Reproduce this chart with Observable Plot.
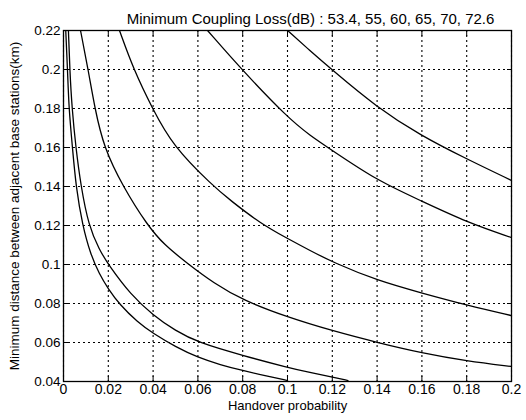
<!DOCTYPE html>
<html>
<head>
<meta charset="utf-8">
<script src="https://cdn.jsdelivr.net/npm/d3@7"></script>
<script src="https://cdn.jsdelivr.net/npm/@observablehq/plot@0.6"></script>
<style>
  html, body { margin: 0; padding: 0; background: white; }
  svg { display: block; }
</style>
</head>
<body>
<div id="chart"></div>
<script>
const titleText = "Minimum Coupling Loss(dB) : 53.4, 55, 60, 65, 70, 72.6";
const xLabel = "Handover probability";
const yLabel = "Minimum distance between adjacent base stations(km)";
const xTicks = [0, 0.02, 0.04, 0.06, 0.08, 0.1, 0.12, 0.14, 0.16, 0.18, 0.2];
const yTicks = [0.04, 0.06, 0.08, 0.1, 0.12, 0.14, 0.16, 0.18, 0.2, 0.22];
const mcl = [53.4, 55, 60, 65, 70, 72.6];

// Curves (handover probability, distance km)
const x534 = [0.0010, 0.0018, 0.0024, 0.0040, 0.0056, 0.0085, 0.0120, 0.0160, 0.0200, 0.0250, 0.0330, 0.0400, 0.0500, 0.0600, 0.0700, 0.0800, 0.0900, 0.1000];
const y534 = [0.220, 0.200, 0.180, 0.160, 0.1395, 0.120, 0.1055, 0.095, 0.0875, 0.0795, 0.0705, 0.0646, 0.0578, 0.0523, 0.0486, 0.0456, 0.0430, 0.0405];

const x55 = [0.0022, 0.0028, 0.0038, 0.0055, 0.0078, 0.0112, 0.0160, 0.0200, 0.0300, 0.0400, 0.0500, 0.0600, 0.0800, 0.1000, 0.1100, 0.1200, 0.1270];
const y55 = [0.220, 0.200, 0.180, 0.160, 0.140, 0.120, 0.1075, 0.100, 0.0845, 0.0740, 0.0660, 0.0600, 0.0533, 0.0472, 0.0446, 0.0422, 0.0405];

const x60 = [0.0076, 0.0110, 0.0140, 0.0180, 0.0265, 0.0375, 0.0450, 0.0554, 0.0670, 0.0804, 0.1000, 0.1200, 0.1400, 0.1600, 0.1800, 0.2000];
const y60 = [0.220, 0.200, 0.180, 0.160, 0.140, 0.120, 0.110, 0.1005, 0.0905, 0.0815, 0.0730, 0.0660, 0.0600, 0.0546, 0.0505, 0.0477];

const x65 = [0.0250, 0.0313, 0.0397, 0.0487, 0.0665, 0.0746, 0.0880, 0.1000, 0.1100, 0.1205, 0.1400, 0.1607, 0.1804, 0.2000];
const y65 = [0.220, 0.200, 0.180, 0.161, 0.1405, 0.1328, 0.121, 0.1133, 0.1072, 0.101, 0.0918, 0.0851, 0.079, 0.0738];

const x70 = [0.0643, 0.0799, 0.1000, 0.1100, 0.1200, 0.1400, 0.1594, 0.1804, 0.2000];
const y70 = [0.220, 0.1995, 0.1754, 0.1662, 0.1585, 0.1431, 0.1328, 0.1215, 0.1138];

const x726 = [0.1000, 0.1100, 0.1192, 0.1400, 0.1594, 0.1795, 0.2000];
const y726 = [0.220, 0.2097, 0.2005, 0.1805, 0.1662, 0.1544, 0.1431];

const series = [[x534, y534], [x55, y55], [x60, y60], [x65, y65], [x70, y70], [x726, y726]];
const data = series.flatMap(([xs, ys], i) => xs.map((x, j) => ({x, y: ys[j], mcl: mcl[i]})));

const fmt = d => String(+d.toFixed(2));
const blank = () => "";

const chart = Plot.plot({
  width: 526,
  height: 420,
  marginLeft: 63,
  marginRight: 15,
  marginTop: 30,
  marginBottom: 39,
  style: {fontFamily: "'Liberation Sans', Arial, sans-serif", fontSize: "13px", background: "white", color: "black"},
  x: {domain: [0, 0.2], ticks: xTicks, tickFormat: fmt},
  y: {domain: [0.04, 0.22], ticks: yTicks, tickFormat: fmt},
  marks: [
    Plot.gridX(xTicks, {stroke: "black", strokeOpacity: 1, strokeDasharray: "2,3", strokeWidth: 1.1}),
    Plot.gridY(yTicks, {stroke: "black", strokeOpacity: 1, strokeDasharray: "2,3", strokeWidth: 1.1}),
    Plot.line(data, {x: "x", y: "y", z: "mcl", stroke: "black", strokeWidth: 1.3, curve: "basis", clip: true}),
    Plot.axisX(xTicks, {anchor: "bottom", tickSize: -5, tickPadding: 8, tickFormat: fmt, label: null, fontSize: 14}),
    Plot.axisX({anchor: "bottom", ticks: [], label: xLabel, labelAnchor: "center", labelOffset: 28, labelArrow: false, fontSize: 13}),
    Plot.axisX(xTicks, {anchor: "top", tickSize: -5, tickFormat: blank, label: null}),
    Plot.axisY(yTicks, {anchor: "left", tickSize: -5, tickPadding: 8, tickFormat: fmt, label: yLabel, labelAnchor: "center", labelOffset: 54, labelArrow: false, fontSize: 13.5}),
    Plot.axisY(yTicks, {anchor: "right", tickSize: -5, tickFormat: blank, label: null}),
    Plot.frame({stroke: "black", strokeWidth: 1.3}),
    Plot.text([titleText], {frameAnchor: "top", dy: -17, dx: 23, fontSize: 15, fill: "black"})
  ]
});
document.getElementById("chart").appendChild(chart);
</script>
</body>
</html>
